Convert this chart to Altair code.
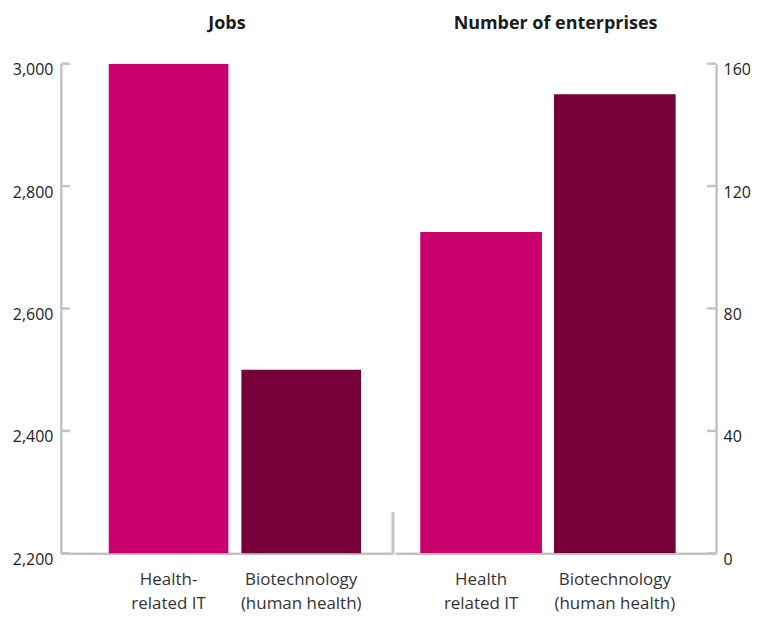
import altair as alt
import pandas as pd

# ---- data ----
jobs_categories = ["Health-\nrelated IT", "Biotechnology\n(human health)"]
jobs_values = [3000, 2500]
ent_categories = ["Health\nrelated IT", "Biotechnology\n(human health) "]
ent_values = [105, 150]
jobs_ticks = [2200, 2400, 2600, 2800, 3000]
ent_ticks = [0, 40, 80, 120, 160]
bar_colors = ["#c8006e", "#78003a"]

FONT = "Open Sans"
GRAY = "#c3c3c3"
H = 491

jobs_df = pd.DataFrame({"cat": jobs_categories, "value": jobs_values})
ent_df = pd.DataFrame({"cat": ent_categories, "value": ent_values})
jobs_tick_df = pd.DataFrame({"t": jobs_ticks})
ent_tick_df = pd.DataFrame({"t": ent_ticks})

x_axis = dict(title=None, labelAngle=0, labelExpr="split(datum.label, '\\n')",
              labelFontSize=17, labelColor="#333333", labelFont=FONT,
              labelLineHeight=24, labelPadding=18, ticks=False,
              domainColor=GRAY, domainWidth=2.5)


def panel(df, tick_df, cats, ticks, domain, orient, title, width, pin, pout, align, fmt, divider, lpad):
    yscale = alt.Scale(domain=domain, nice=False, zero=False)
    yaxis = alt.Axis(title=None, orient=orient, values=ticks, format=fmt, ticks=False,
                     grid=False, labelFontSize=16, labelColor="#222222", labelFont=FONT,
                     labelPadding=lpad, labelOffset=6, domainColor=GRAY, domainWidth=2.5)
    bars = alt.Chart(df).mark_bar(clip=True).encode(
        x=alt.X("cat:N", sort=cats,
                scale=alt.Scale(paddingInner=pin, paddingOuter=pout, align=align),
                axis=alt.Axis(**x_axis)),
        y=alt.Y("value:Q", scale=yscale, axis=yaxis),
        color=alt.Color("cat:N", scale=alt.Scale(domain=cats, range=bar_colors), legend=None),
    )
    if orient == "left":
        tx, tx2 = alt.value(0), alt.value(9)
    else:
        tx, tx2 = alt.value(width - 9), alt.value(width)
    tick_rules = alt.Chart(tick_df).mark_rule(color=GRAY, strokeWidth=2.5).encode(
        y=alt.Y("t:Q", scale=yscale), x=tx, x2=tx2)
    layers = [bars, tick_rules]
    if divider:
        div = alt.Chart(df).mark_rule(color=GRAY, strokeWidth=2.5).encode(
            x=alt.value(width), y=alt.value(H - 41), y2=alt.value(H))
        layers.append(div)
    return alt.layer(*layers).properties(
        width=width, height=H,
        title=alt.TitleParams(title, anchor="middle", fontSize=18, font=FONT,
                              fontWeight="bold", color="#1a1a1a", offset=29),
    )


left = panel(jobs_df, jobs_tick_df, jobs_categories, jobs_ticks, [2200, 3000], "left",
             "Jobs", 333, 0.0977, 0.3008, 0.6, ",d", True, 8)
right = panel(ent_df, ent_tick_df, ent_categories, ent_ticks, [0, 160], "right",
              "Number of enterprises", 322, 0.0896, 0.246, 0.385, "d", False, 7)

chart = alt.hconcat(left, right, spacing=0).configure_view(stroke=None).properties(
    padding={"left": 4, "top": 6, "right": 0, "bottom": 14})

chart.save("out.html", embed_options={"renderer": "svg", "actions": False})
